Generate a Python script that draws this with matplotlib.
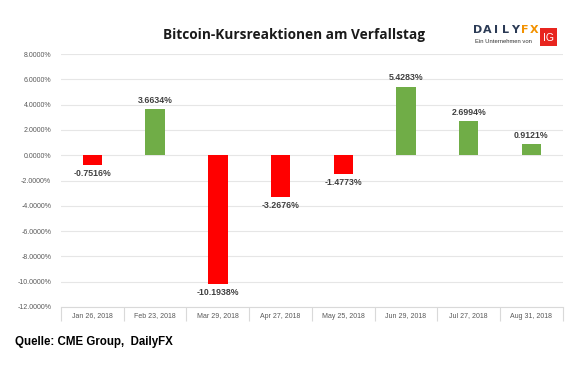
import matplotlib.pyplot as plt
from matplotlib.patches import Rectangle

dates = ["Jan 26, 2018", "Feb 23, 2018", "Mar 29, 2018", "Apr 27, 2018",
         "May 25, 2018", "Jun 29, 2018", "Jul 27, 2018", "Aug 31, 2018"]
changes = [-0.7516, 3.6634, -10.1938, -3.2676, -1.4773, 5.4283, 2.6994, 0.9121]
yticks = [8, 6, 4, 2, 0, -2, -4, -6, -8, -10, -12]

fig = plt.figure(figsize=(5.79, 3.73), dpi=100)
ax = fig.add_axes([0.1054, 0.177, 0.8666, 0.678])

x = list(range(len(dates)))
colors = ["#70AD47" if v >= 0 else "#FF0000" for v in changes]
ax.bar(x, changes, width=0.31, color=colors, zorder=3)

for xi, v in zip(x, changes):
    if v >= 0:
        ax.annotate(f"{v:.4f}%", (xi, v), xytext=(0, 3), textcoords="offset points",
                    ha="center", va="bottom", fontsize=6.3, color="#404040",
                    family="Liberation Sans", fontweight="bold")
    else:
        ax.annotate(f"{v:.4f}%", (xi, v), xytext=(0, -3), textcoords="offset points",
                    ha="center", va="top", fontsize=6.3, color="#404040",
                    family="Liberation Sans", fontweight="bold")

ax.set_ylim(-12, 8)
ax.set_xlim(-0.5, len(dates) - 0.5)
ax.set_yticks(yticks)
ax.set_yticklabels([f"{t:.4f}%" for t in yticks], fontsize=5, color="#595959",
                   family="Liberation Sans")
ax.grid(axis="y", color="#E6E6E6", linewidth=0.8, zorder=0)
ax.tick_params(axis="y", length=0, pad=7)

# category labels with separators
ax.set_xticks(x)
ax.set_xticklabels(dates, fontsize=5, color="#595959", family="Liberation Sans")
ax.tick_params(axis="x", length=0, pad=4)
ax.set_xticks([i - 0.5 for i in range(len(dates) + 1)], minor=True)
ax.tick_params(axis="x", which="minor", length=10, color="#D9D9D9", width=0.8)

for s in ["top", "right", "left"]:
    ax.spines[s].set_visible(False)
ax.spines["bottom"].set_color("#D9D9D9")
ax.spines["bottom"].set_linewidth(0.8)

fig.text(0.507, 0.906, "Bitcoin-Kursreaktionen am Verfallstag", ha="center", va="center",
         fontsize=9.8, fontweight="bold", family="Open Sans", color="#1a1a1a")

fig.text(0.026, 0.083, "Quelle: CME Group,  DailyFX", ha="left", va="center",
         fontsize=8.3, fontweight="bold", family="Liberation Sans", color="black")

# DailyFX logo, letters spaced out
logo = "DAILYFX"
x0 = 0.8245
pitch = 0.0163
for i, ch in enumerate(logo):
    fig.text(x0 + i * pitch, 0.92, ch, ha="center", va="center", fontsize=8,
             fontweight="bold", family="DejaVu Sans",
             color="#2B3A55" if i < 5 else "#F39200")
fig.text(0.82, 0.889, "Ein Unternehmen von", ha="left", va="center", fontsize=4.2,
         family="Liberation Sans", color="#333333")
fig.patches.append(Rectangle((0.9326, 0.877), 0.0294, 0.048, transform=fig.transFigure,
                             facecolor="#E8251F", edgecolor="none"))
fig.text(0.9473, 0.899, "IG", ha="center", va="center", fontsize=7.5,
         family="Liberation Sans", color="white")

fig.savefig("out.png", dpi=100)
